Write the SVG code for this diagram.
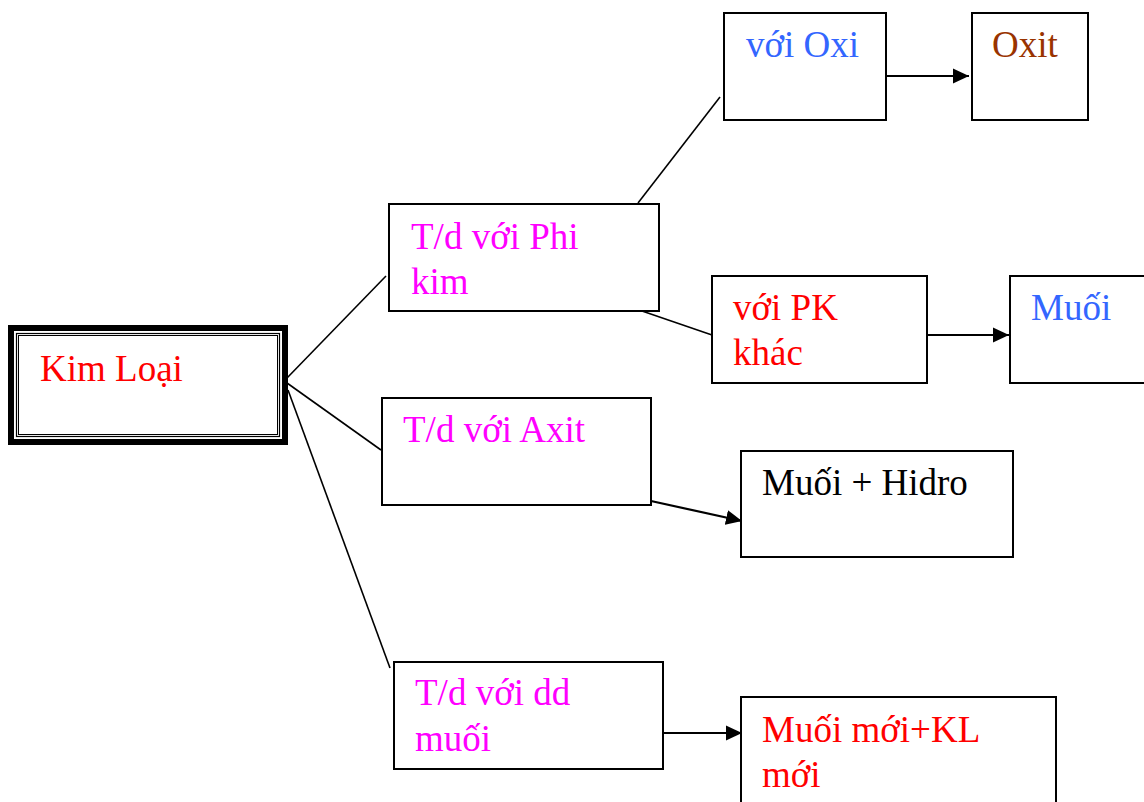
<svg xmlns="http://www.w3.org/2000/svg" width="1144" height="802" viewBox="0 0 1144 802">
  <style>
    .box { fill: #ffffff; stroke: #000000; stroke-width: 2; }
    .lbl { font-family: "Liberation Serif", "Times New Roman", serif; font-size: 37px; }
    .link { stroke: #000000; stroke-width: 1.6; fill: none; }
    .arrow { stroke: #000000; stroke-width: 2.2; fill: none; marker-end: url(#head); }
    .magenta { fill: #ff00ff; }
    .red { fill: #ff0000; }
    .blue { fill: #3366ff; }
    .brown { fill: #993300; }
    .black { fill: #000000; }
  </style>
  <defs>
    <marker id="head" markerUnits="userSpaceOnUse" markerWidth="16" markerHeight="16" viewBox="0 0 16 16" refX="16" refY="8" orient="auto">
      <path d="M0,0.5 L16,8 L0,15.5 Z" fill="#000000"/>
    </marker>
  </defs>

  <rect width="1144" height="802" fill="#ffffff"/>

  <!-- connectors -->
  <g id="connectors">
    <line class="link" x1="287" y1="378" x2="386" y2="276"/>
    <line class="link" x1="287" y1="383" x2="381" y2="450"/>
    <line class="link" x1="288" y1="390" x2="390" y2="668"/>
    <line class="link" x1="638" y1="203" x2="720" y2="97"/>
    <line class="link" x1="642" y1="311" x2="712" y2="335"/>
    <line class="arrow" x1="886" y1="76" x2="969" y2="76"/>
    <line class="arrow" x1="927" y1="335" x2="1009" y2="335"/>
    <line class="arrow" x1="651" y1="501" x2="742" y2="521"/>
    <line class="arrow" x1="663" y1="733" x2="742" y2="733"/>
  </g>

  <!-- root node with heavy double frame -->
  <g id="kim-loai">
    <rect x="11" y="328" width="274" height="114" fill="#ffffff" stroke="#000000" stroke-width="6"/>
    <rect x="16.5" y="333.5" width="263" height="103" fill="none" stroke="#000000" stroke-width="1.2"/>
    <rect x="18.5" y="335.5" width="259" height="99" fill="none" stroke="#000000" stroke-width="1"/>
    <text class="lbl red" x="40" y="381">Kim Loại</text>
  </g>

  <g id="td-phi-kim">
    <rect class="box" x="389" y="204" width="270" height="107"/>
    <text class="lbl magenta" x="411" y="249">T/d với Phi</text>
    <text class="lbl magenta" x="411" y="294">kim</text>
  </g>

  <g id="voi-oxi">
    <rect class="box" x="724" y="13" width="162" height="107"/>
    <text class="lbl blue" x="746" y="57">với Oxi</text>
  </g>

  <g id="oxit">
    <rect class="box" x="972" y="13" width="116" height="107"/>
    <text class="lbl brown" x="992" y="57">Oxit</text>
  </g>

  <g id="voi-pk-khac">
    <rect class="box" x="712" y="276" width="215" height="107"/>
    <text class="lbl red" x="733" y="320">với PK</text>
    <text class="lbl red" x="733" y="365">khác</text>
  </g>

  <g id="muoi">
    <rect class="box" x="1010" y="276" width="140" height="107"/>
    <text class="lbl blue" x="1031" y="320">Muối</text>
  </g>

  <g id="td-axit">
    <rect class="box" x="382" y="398" width="269" height="107"/>
    <text class="lbl magenta" x="403" y="442">T/d với Axit</text>
  </g>

  <g id="muoi-hidro">
    <rect class="box" x="741" y="451" width="272" height="106"/>
    <text class="lbl black" x="762" y="495">Muối + Hidro</text>
  </g>

  <g id="td-dd-muoi">
    <rect class="box" x="394" y="662" width="269" height="107"/>
    <text class="lbl magenta" x="415" y="705">T/d với dd</text>
    <text class="lbl magenta" x="415" y="751">muối</text>
  </g>

  <g id="muoi-moi-kl-moi">
    <rect class="box" x="741" y="697" width="315" height="120"/>
    <text class="lbl red" x="762" y="742">Muối mới+KL</text>
    <text class="lbl red" x="762" y="787">mới</text>
  </g>
</svg>
